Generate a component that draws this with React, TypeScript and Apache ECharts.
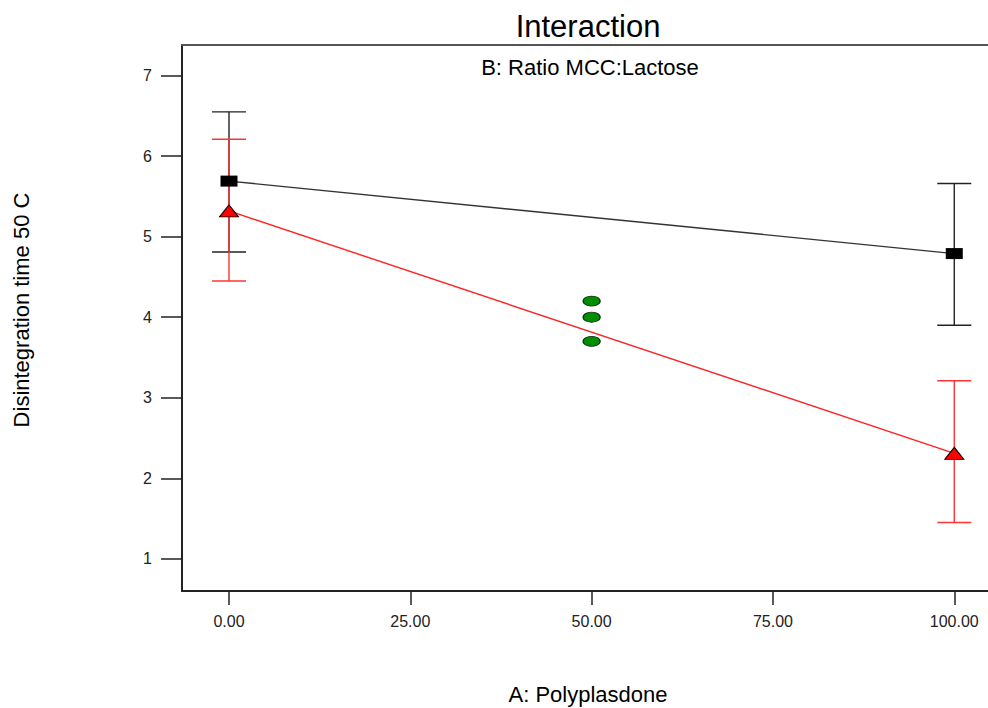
import React, { useEffect, useRef } from "react";
import * as echarts from "echarts";

const xTicks = [0, 25, 50, 75, 100];
const yTicks = [1, 2, 3, 4, 5, 6, 7];

// B- (black, squares) and B+ (red, triangles) means at A = 0 and 100
const blackMeans: [number, number][] = [
  [0, 5.69],
  [100, 4.79],
];
const blackErr: [number, number, number][] = [
  [0, 4.81, 6.55],
  [100, 3.9, 5.66],
];
const redMeans: [number, number][] = [
  [0, 5.32],
  [100, 2.31],
];
const redErr: [number, number, number][] = [
  [0, 4.45, 6.21],
  [100, 1.45, 3.21],
];
const centerPoints: [number, number][] = [
  [50, 4.2],
  [50, 4.0],
  [50, 3.7],
];

const FONT = "'Liberation Sans', Arial, sans-serif";
const X_MIN = -6.48;
const X_MAX = 104.65;

function errorSeries(data: [number, number, number][], color: string) {
  return {
    type: "custom",
    data,
    z: 2,
    renderItem: (params: any, api: any) => {
      const x = api.value(0);
      const lo = api.coord([x, api.value(1)]);
      const hi = api.coord([x, api.value(2)]);
      const hw = 17;
      const style = { stroke: color, lineWidth: 1.4 };
      return {
        type: "group",
        children: [
          { type: "line", shape: { x1: lo[0], y1: lo[1], x2: hi[0], y2: hi[1] }, style },
          { type: "line", shape: { x1: lo[0] - hw, y1: lo[1], x2: lo[0] + hw, y2: lo[1] }, style },
          { type: "line", shape: { x1: hi[0] - hw, y1: hi[1], x2: hi[0] + hw, y2: hi[1] }, style },
        ],
      };
    },
  };
}

export default function App() {
  const ref = useRef<HTMLDivElement>(null);
  useEffect(() => {
    if (!ref.current) return;
    const chart = echarts.init(ref.current, null, { renderer: "svg" });
    chart.setOption({
      animation: false,
      backgroundColor: "#ffffff",
      textStyle: { fontFamily: FONT },
      grid: { left: 182, top: 45, right: 0, bottom: 117, containLabel: false },
      xAxis: [
        {
          type: "value",
          min: X_MIN,
          max: X_MAX,
          position: "bottom",
          splitLine: { show: false },
          axisLine: { show: true, onZero: false, lineStyle: { color: "#222", width: 2 } },
          axisTick: {
            show: true,
            customValues: xTicks,
            length: 14,
            inside: false,
            lineStyle: { color: "#222", width: 1.5 },
          },
          axisLabel: {
            customValues: xTicks,
            formatter: (v: number) => v.toFixed(2),
            fontSize: 16,
            color: "#222",
            margin: 22,
            fontFamily: FONT,
          },
        },
        {
          type: "value",
          min: X_MIN,
          max: X_MAX,
          position: "top",
          splitLine: { show: false },
          axisLine: { show: true, onZero: false, lineStyle: { color: "#555", width: 2 } },
          axisTick: { show: false },
          axisLabel: { show: false },
        },
      ],
      yAxis: {
        type: "value",
        min: 0.6,
        max: 7.38,
        splitLine: { show: false },
        axisLine: { show: true, onZero: false, lineStyle: { color: "#222", width: 2 } },
        axisTick: {
          show: true,
          customValues: yTicks,
          length: 21,
          lineStyle: { color: "#222", width: 1.5 },
        },
        axisLabel: {
          customValues: yTicks,
          formatter: (v: number) => String(v),
          fontSize: 16,
          color: "#222",
          margin: 30,
          fontFamily: FONT,
        },
      },
      series: [
        errorSeries(blackErr, "#222222"),
        errorSeries(redErr, "#ff3333"),
        {
          type: "line",
          data: blackMeans,
          z: 3,
          lineStyle: { color: "#333333", width: 1.4 },
          symbol: "rect",
          symbolSize: [17, 11],
          itemStyle: { color: "#000000" },
        },
        {
          type: "line",
          data: redMeans,
          z: 3,
          lineStyle: { color: "#ff2020", width: 1.4 },
          symbol: "triangle",
          symbolSize: [19, 12],
          itemStyle: { color: "#ff0000", borderColor: "#000000", borderWidth: 1 },
        },
        {
          type: "scatter",
          data: centerPoints,
          z: 4,
          symbol: "circle",
          symbolSize: [17, 10],
          itemStyle: { color: "#008f00", borderColor: "#102a10", borderWidth: 1, opacity: 1 },
        },
      ],
      graphic: [
        {
          type: "rect",
          x: 985,
          y: 47,
          z: 100,
          shape: { width: 4, height: 542 },
          style: { fill: "#ffffff" },
        },
        {
          type: "text",
          x: 588,
          y: 26,
          style: {
            text: "Interaction",
            fontSize: 31,
            fontFamily: FONT,
            fill: "#000",
            align: "center",
            verticalAlign: "middle",
          },
        },
        {
          type: "text",
          x: 590,
          y: 67,
          style: {
            text: "B: Ratio MCC:Lactose",
            fontSize: 22,
            fontFamily: FONT,
            fill: "#000",
            align: "center",
            verticalAlign: "middle",
          },
        },
        {
          type: "text",
          x: 588,
          y: 694,
          style: {
            text: "A: Polyplasdone",
            fontSize: 22,
            fontFamily: FONT,
            fill: "#000",
            align: "center",
            verticalAlign: "middle",
          },
        },
        {
          type: "text",
          x: 21,
          y: 310,
          rotation: Math.PI / 2,
          style: {
            text: "Disintegration time 50 C",
            fontSize: 22,
            fontFamily: FONT,
            fill: "#000",
            align: "center",
            verticalAlign: "middle",
          },
        },
      ],
    });
    return () => chart.dispose();
  }, []);
  return (
    <div
      ref={ref}
      style={{ position: "absolute", left: 0, top: 0, width: 988, height: 708 }}
    />
  );
}
